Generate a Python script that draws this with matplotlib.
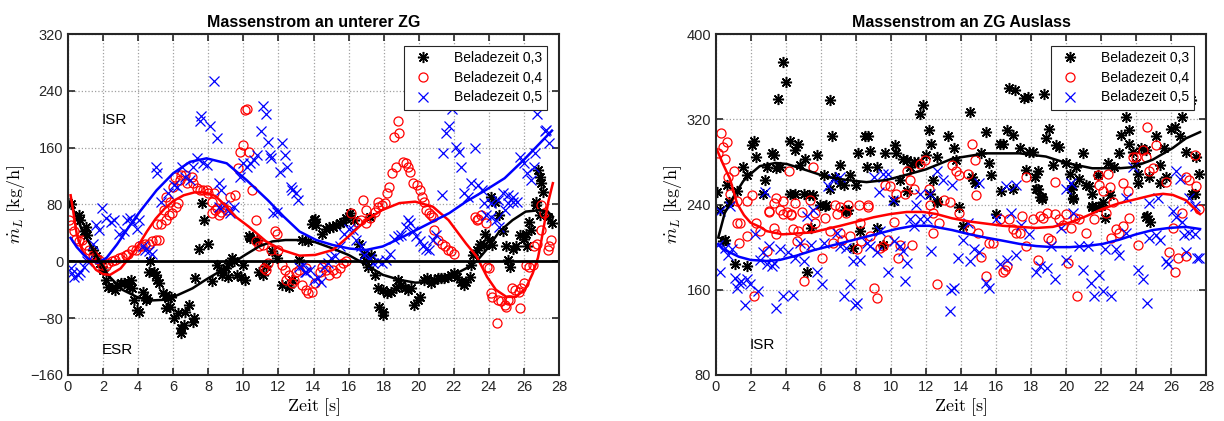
import matplotlib
matplotlib.use("Agg")
import matplotlib.pyplot as plt

plt.rcParams['font.family'] = ['Liberation Sans', 'DejaVu Sans']
plt.rcParams['mathtext.fontset'] = 'cm'

# ---------------- left panel: Massenstrom an unterer ZG ----------------
l_t03 = [0.0, 0.15, 0.6, 0.7, 0.9, 1.1, 1.0, 1.4, 1.6, 1.8, 2.0, 2.15, 2.3, 2.5, 2.7, 2.8, 3.0, 3.2, 3.4, 3.6,
         3.5, 3.65, 3.75, 3.95, 4.05, 4.25, 4.45, 4.5, 4.7, 4.6, 4.9, 5.0, 5.1, 5.2, 5.4, 5.6, 5.7, 5.9, 5.6, 5.8,
         6.05, 6.25, 6.45, 6.45, 6.6, 6.7, 6.9, 7.1, 7.2, 7.25, 7.45, 7.75, 7.65, 8.0, 8.2, 8.5, 8.7, 8.8, 9.0, 9.1,
         9.2, 9.35, 9.45, 9.65, 9.85, 10.0, 10.1, 10.3, 10.4, 10.8, 10.9, 11.1, 11.3, 11.65, 11.9, 12.2, 12.6, 12.8,
         13.15, 13.35, 13.7, 13.9, 14.1, 14.0, 14.15, 14.5, 14.7, 14.9, 15.1, 15.3, 15.5, 15.7, 15.85, 16.1, 16.3,
         16.6, 16.9, 17.0, 17.2, 17.3, 17.1, 17.5, 17.65, 17.95, 18.2, 18.4, 17.75, 17.95, 17.95, 18.8, 18.7, 19.0,
         19.2, 19.4, 19.55, 19.75, 19.95, 20.1, 20.3, 20.5, 20.7, 20.9, 21.1, 21.25, 21.45, 21.65, 21.85, 22.0,
         22.2, 22.4, 22.6, 22.7, 22.9, 23.0, 23.1, 23.3, 23.5, 23.7, 23.8, 24.0, 24.2, 24.35, 24.15, 24.6, 24.8,
         25.0, 25.1, 25.2, 25.35, 25.55, 25.75, 26.0, 26.1, 26.2, 26.3, 26.4, 26.7, 26.9, 27.35, 27.6, 26.8, 26.9,
         27.0, 27.1, 26.7]
l_m03 = [82, 80, 65, 58, 42, 37, 49, 16, 7, -3, -12, -26, -36, -38, -40, -33, -31, -31, -29, -26,
         -36, -38, -54, -68, -71, -43, -54, -52, 0, -15, -15, -19, -26, -31, -45, -47, -52, -50, -66, -64,
         -80, -73, -94, -101, -90, -71, -61, -85, -80, -24, 18, 58, 82, 25, -28, -5, -12, -19, -10, -22,
         -3, 4, 0, -19, -22, -5, -26, 35, 33, 30, -15, -19, -7, 14, 4, -33, -36, -26,
         2, 30, 28, 53, 60, 58, 51, 39, 46, 49, 49, 51, 54, 56, 61, 68, 58,
         25, 11, 0, 63, 9, -8, -19, -38, -40, -45, -43, -64, -71, -76, -26, -38, -33,
         -38, -40, -38, -61, -54, -50, -26, -24, -31, -26, -24, -24, -24, -22, -19, -17,
         -22, -29, -33, -29, -22, -5, 9, 16, 25, 23, 39, 30, 23, 84, 91, 65, 42,
         21, 2, -8, 18, 21, 37, 32, 39, 21, 56, 44, 79, 65, 63, 54, 128, 119,
         110, 98, 84]

l_t04 = [0.05, 0.15, 0.35, 0.45, 0.6, 0.8, 1.0, 1.2, 1.4, 1.6, 1.75, 1.95, 2.15, 2.3, 2.5, 2.7, 2.9, 3.1, 3.3, 3.45,
         3.65, 3.85, 4.05, 4.2, 4.4, 4.6, 4.8, 5.0, 5.2, 5.1, 5.3, 5.6, 5.75, 5.95, 6.15, 6.3, 6.1, 6.45, 6.65, 7.05,
         6.8, 7.15, 7.35, 7.5, 7.7, 7.9, 8.0, 8.3, 8.2, 8.5, 8.7, 8.85, 9.05, 9.25, 9.5, 9.7, 10.0, 9.8, 10.3, 10.1,
         10.2, 10.5, 10.7, 6.4, 6.0, 5.6, 5.8, 5.45, 8.2, 8.4, 8.6, 10.7, 10.9, 11.1, 11.2, 11.3, 11.4, 11.6, 11.8,
         11.9, 12.0, 12.2, 12.35, 12.45, 12.6, 12.75, 12.9, 13.0, 13.15, 13.35, 13.55, 13.7, 13.9, 14.1, 13.6,
         14.35, 14.5, 14.7, 14.9, 15.1, 15.3, 15.5, 15.7, 15.85, 16.15, 16.5, 16.7, 17.0, 17.2, 17.5, 17.7, 17.9,
         18.05, 16.8, 17.0, 17.7, 18.2, 18.3, 18.5, 18.7, 18.6, 18.9, 18.8, 19.1, 19.3, 19.4, 19.5, 19.7, 19.9,
         20.1, 20.2, 20.3, 20.4, 20.6, 20.8, 20.7, 20.9, 21.1, 21.3, 21.5, 21.65, 21.85, 22.0, 23.2, 23.3, 23.55,
         23.85, 23.9, 24.0, 24.1, 24.2, 24.45, 24.5, 24.7, 24.9, 25.0, 25.1, 25.2, 25.3, 25.5, 25.7, 25.8, 25.85,
         26.0, 26.1, 26.3, 26.5, 26.6, 26.75, 26.95, 27.15, 27.35, 27.45, 27.55, 26.95, 23.4]
l_m04 = [58, 51, 42, 32, 28, 30, 23, 16, 9, 4, 2, -5, -7, -3, 0, 2, 4, 6, 9, 11,
         16, 16, 21, 21, 25, 25, 28, 30, 30, 53, 53, 58, 65, 68, 77, 82, 119, 121, 121, 119,
         110, 110, 103, 100, 100, 100, 96, 96, 84, 75, 70, 77, 72, 91, 93, 131, 164, 154, 154, 213,
         215, 100, 58, 114, 105, 91, 84, 72, 68, 72, 65, 28, 21, 23, -10, -12, -3, 16, 42,
         39, 16, -5, -12, -26, -19, -31, -26, -15, -12, -33, -40, -45, -43, -31, -10,
         -15, -8, -12, -19, -12, -17, -10, -3, 0, 68, 56, 58, 54, 61, 70, 77, 79,
         82, 86, 72, 84, 96, 105, 124, 133, 175, 180, 197, 140, 138, 133, 126, 110, 108,
         100, 91, 84, 72, 68, 63, 65, 44, 30, 25, 21, 16, 14, 11, 63, 58, 65,
         54, -8, -10, -45, -50, -87, -54, -56, -61, -64, -54, -54, -38, -40, -43, -66, -38,
         -31, -5, -8, -5, 21, 25, 44, 68, 16, 21, 30, 79, 60]

l_t05 = [0.15, 0.25, 0.35, 0.55, 0.7, 0.9, 1.1, 1.4, 1.6, 1.75, 1.95, 2.15, 2.45, 2.6, 2.9, 3.2, 3.35, 3.55, 3.65,
         3.95, 4.05, 4.25, 4.4, 4.6, 4.8, 5.0, 5.1, 5.3, 5.7, 6.05, 6.2, 6.5, 6.7, 6.95, 7.15, 7.35, 7.5, 7.6, 8.1,
         8.5, 8.3, 7.7, 7.9, 8.6, 8.7, 8.9, 9.25, 9.45, 9.8, 10.0, 10.2, 10.4, 10.6, 10.8, 11.0, 11.1, 11.3, 11.4,
         11.5, 11.6, 11.9, 12.1, 12.2, 12.4, 12.5, 12.7, 12.8, 13.0, 13.1, 8.6, 9.2, 11.7, 13.15, 13.4, 13.6, 13.8,
         14.0, 13.5, 14.25, 14.45, 14.6, 14.8, 15.0, 15.2, 15.5, 15.75, 16.05, 16.25, 16.4, 16.7, 16.9, 17.2, 17.4,
         17.7, 17.9, 18.15, 18.35, 18.6, 18.8, 19.0, 19.3, 19.5, 19.65, 19.85, 20.05, 20.25, 20.4, 20.6, 20.8,
         21.0, 19.4, 21.3, 21.4, 21.55, 21.7, 21.9, 22.1, 22.3, 22.4, 22.6, 22.8, 23.0, 23.2, 23.4, 23.6, 23.7,
         24.1, 24.5, 24.8, 25.1, 25.35, 25.6, 25.8, 26.0, 26.2, 26.4, 26.55, 26.65, 26.75, 27.0, 27.2, 27.25,
         27.45, 23.85, 24.1, 24.4, 24.6, 24.9, 25.1, 25.4]
l_m05 = [-10, -17, -22, -19, -15, -8, 0, 25, 51, 44, 75, 61, 56, 58, 39, 42, 58, 61, 56,
         46, 58, 21, 16, 14, 11, 133, 124, 84, 96, 107, 105, 133, 119, 114, 133, 145, 197, 204, 190,
         173, 254, 138, 136, 110, 100, 79, 68, 77, 119, 138, 133, 138, 143, 150, 183, 218, 208, 168,
         150, 145, 70, 126, 166, 150, 133, 105, 100, 96, 86, 77, 72, 68, -8, -5, -15, -12,
         -26, -15, -24, -29, -8, -3, 4, 7, 21, 39, 46, 44, 30, 21, 9, 4, -3,
         0, -3, 2, 11, 32, 35, 37, 49, 54, 42, 35, 28, 21, 18, 16, 30,
         37, 58, 93, 152, 180, 190, 215, 161, 154, 133, 96, 91, 110, 159, 107, 100, 82,
         82, 86, 96, 93, 91, 84, 147, 138, 124, 114, 133, 152, 208, 255, 183, 185,
         166, 65, 63, 58, 49, 72, 82, 84]

# fitted curves
lf03_t = [0.1, 0.8, 1.6, 2.3, 3.1, 4.0, 4.8, 5.6, 6.3, 7.1, 7.85, 8.6, 9.35, 10.1, 10.9, 11.65, 12.4, 13.2, 14.1,
          15.1, 16.0, 17.0, 17.95, 18.9, 19.8, 20.8, 21.75, 22.7, 23.3, 23.85, 24.6, 25.35, 26.1, 26.9, 27.35, 27.65]
lf03_m = [84, 44, 9, -20, -40, -51, -55, -54, -47, -38, -26, -15, -3, 9, 21, 28, 30, 30, 27,
          18, 9, -5, -19, -26, -30, -29, -22, -10, 0, 16, 42, 58, 70, 72, 70, 63]
lf04_t = [0.15, 0.3, 0.5, 0.8, 1.1, 1.6, 2.0, 2.4, 3.0, 3.5, 4.0, 4.5, 5.0, 5.5, 6.0, 6.6, 7.2, 7.8, 8.4, 9.0,
          9.6, 10.3, 11.3, 12.2, 13.2, 14.1, 15.1, 16.0, 17.0, 17.9, 18.9, 19.8, 20.8, 21.7, 22.7, 23.3, 23.9,
          24.4, 25.0, 25.55, 26.1, 26.5, 26.8, 27.0, 27.2, 27.4, 27.65]
lf04_m = [93, 70, 38, 16, 4, -12, -18, -19, -10, 5, 22, 42, 60, 74, 85, 93, 97, 97, 92, 78,
          62, 49, 28, 16, 8, 9, 16, 35, 58, 72, 82, 84, 77, 58, 25, 7, -22,
          -40, -50, -50, -38, -17, 5, 30, 58, 85, 110]
lf05_t = [0.15, 0.5, 0.9, 1.3, 1.7, 2.2, 2.8, 3.4, 4.1, 5.05, 6.0, 6.95, 7.9, 9.05, 10.2, 11.4, 12.3, 13.2,
          14.15, 15.1, 16.05, 17.0, 17.95, 18.9, 19.85, 20.8, 21.75, 22.7, 23.8, 24.9, 26.0, 26.9, 27.6]
lf05_m = [33, 20, 9, 1, -2, 5, 24, 46, 70, 100, 124, 140, 145, 138, 114, 86, 63, 42,
          30, 23, 18, 16, 21, 32, 44, 56, 68, 84, 100, 117, 143, 166, 184]

# ---------------- right panel: Massenstrom an ZG Auslass ----------------
r_t03 = [3.85, 3.98, 3.56, 6.5, 6.6, 0.05, 0.65, 1.2, 1.55, 1.75, 2.05, 2.15, 2.3, 2.8, 2.7, 2.9, 3.2, 3.3, 3.45,
         3.65, 4.25, 4.7, 4.5, 4.8, 5.1, 4.2, 4.5, 5.0, 5.3, 5.55, 5.75, 6.15, 6.25, 6.5, 6.8, 7.1, 7.1, 7.3, 7.35,
         7.65, 8.0, 8.1, 8.5, 8.7, 8.8, 8.6, 9.2, 9.65, 10.2, 10.3, 10.7, 10.9, 11.1, 10.5, 10.9, 11.3, 11.55, 11.65,
         11.85, 12.15, 12.3, 12.0, 12.4, 12.6, 13.25, 13.6, 13.7, 14.5, 14.6, 14.8, 15.15, 15.4, 15.6, 15.7, 16.2,
         16.4, 16.65, 16.95, 16.75, 17.1, 17.35, 17.6, 17.8, 17.9, 18.1, 17.7, 18.2, 18.4, 18.3, 18.6, 18.75, 18.85,
         19.05, 19.25, 19.45, 19.6, 20.0, 20.2, 20.4, 20.55, 20.75, 20.95, 21.15, 21.5, 21.8, 22.4, 22.75, 23.05,
         23.15, 23.45, 23.6, 23.6, 23.8, 24.0, 24.1, 24.1, 24.3, 24.55, 24.75, 25.15, 25.35, 25.6, 25.7, 26.0,
         26.2, 26.5, 26.65, 26.85, 27.15, 27.35, 27.6, 27.4, 25.35, 12.2, 12.65, 16.3, 16.95, 18.4, 18.5, 20.3,
         20.4, 21.3, 21.5, 21.7, 22.0, 22.5, 24.55, 27.2, 0.2, 0.4, 0.5, 0.75, 1.1, 1.75, 5.2, 5.45, 5.95, 6.3,
         7.4, 7.55, 7.85, 8.2, 9.2, 9.55, 10.15, 12.6, 13.9, 14.1, 16.0, 18.6, 20.4, 21.5, 22.1, 22.2, 24.6, 24.8]
r_m03 = [374, 355, 339, 338, 304, 252, 258, 253, 275, 268, 296, 300, 285, 263, 250, 275, 288, 286, 274,
         275, 300, 297, 291, 277, 283, 250, 250, 250, 249, 249, 286, 268, 239, 255, 266, 277, 260, 258, 235,
         268, 258, 288, 304, 304, 290, 275, 275, 288, 296, 288, 283, 282, 275, 263, 253, 280, 280, 325,
         333, 310, 297, 286, 263, 285, 304, 293, 282, 327, 266, 260, 288, 308, 279, 268, 297,
         297, 310, 305, 349, 347, 293, 340, 341, 289, 289, 272, 266, 271, 255, 247, 344, 302,
         311, 277, 296, 294, 279, 269, 257, 275, 264, 288, 258, 250, 268, 279, 275, 288,
         305, 322, 310, 297, 289, 279, 269, 260, 293, 291, 266, 304, 277, 293, 266, 311,
         313, 304, 322, 289, 338, 250, 269, 285, 260, 250, 243, 253, 255, 255, 247, 255,
         246, 257, 239, 238, 239, 249, 228, 250, 235, 206, 207, 242, 184, 182, 177, 218, 240, 240,
         234, 235, 199, 215, 218, 202, 243, 242, 238, 220, 231, 245, 245, 238, 242, 227, 229, 224]

r_t04 = [0.13, 0.3, 0.4, 0.6, 0.5, 0.7, 1.0, 0.8, 1.2, 2.05, 1.75, 3.0, 3.3, 3.45, 3.85, 4.05, 4.15, 4.3, 4.5,
         4.9, 5.35, 5.55, 5.65, 6.8, 7.1, 7.55, 8.15, 8.7, 9.65, 9.95, 10.3, 10.8, 10.9, 11.1, 11.3, 11.65, 11.95,
         12.15, 12.25, 12.4, 13.5, 13.7, 13.9, 14.4, 14.6, 14.8, 14.85, 13.05, 13.35, 17.7, 19.35, 21.8, 21.9,
         22.1, 22.4, 22.5, 22.7, 23.25, 23.55, 23.8, 24.0, 24.4, 24.55, 24.65, 24.75, 24.95, 25.15, 25.7, 26.85,
         27.05, 27.35, 27.6, 27.45, 1.2, 1.35, 1.3, 1.75, 2.15, 2.3, 2.5, 2.9, 3.0, 3.3, 3.4, 3.65, 3.85, 4.3, 4.4,
         4.6, 4.7, 5.0, 5.2, 5.0, 5.65, 6.05, 6.25, 6.5, 6.7, 6.9, 7.1, 7.2, 7.45, 7.65, 8.05, 8.25, 8.3, 8.7, 8.8,
         9.0, 9.2, 9.35, 9.55, 9.85, 10.15, 10.4, 10.5, 11.2, 12.4, 12.65, 12.75, 13.9, 14.5, 14.95, 15.15, 15.4,
         15.6, 15.8, 16.2, 16.4, 16.5, 16.65, 16.75, 16.95, 17.15, 17.35, 17.5, 17.7, 18.1, 18.4, 18.5, 18.7, 18.9,
         18.95, 19.15, 19.35, 19.6, 19.8, 20.0, 20.1, 20.3, 20.5, 20.65, 20.75, 21.15, 21.6, 22.3, 22.55, 22.85,
         23.05, 23.25, 23.6, 24.1, 25.9, 26.2, 26.4, 26.65, 26.85, 26.1]
r_m04 = [288, 307, 294, 299, 283, 266, 271, 250, 243, 249, 243, 233, 241, 246, 243, 233, 271, 230, 241,
         233, 244, 275, 232, 240, 238, 240, 240, 240, 258, 257, 250, 250, 271, 263, 255, 278, 282,
         255, 240, 232, 277, 271, 268, 269, 297, 282, 249, 244, 242, 266, 261, 268, 258,
         253, 269, 256, 242, 260, 253, 285, 285, 291, 285, 313, 271, 274, 296, 261, 266,
         263, 286, 236, 257, 223, 223, 204, 210, 154, 223, 215, 196, 234, 218, 212, 235, 231, 231, 217,
         206, 215, 199, 218, 168, 223, 190, 227, 215, 204, 231, 213, 207, 232, 210, 198, 223, 206, 238, 210,
         162, 152, 199, 201, 207, 224, 190, 202, 202, 213, 165, 223, 232, 217, 213, 191, 173,
         204, 204, 226, 177, 179, 182, 226, 217, 213, 213, 229, 201, 226, 188, 229, 227, 232,
         209, 207, 231, 226, 221, 231, 185, 218, 227, 154, 226, 213, 226, 232, 209, 217,
         213, 220, 227, 202, 195, 177, 190, 232, 192, 218]

r_t05 = [0.2, 0.13, 0.2, 0.5, 0.7, 0.9, 1.1, 1.3, 1.2, 1.45, 1.65, 1.75, 1.95, 2.2, 2.4, 2.5, 2.7, 2.9, 3.0, 3.2,
         3.3, 3.4, 3.65, 3.85, 4.1, 4.4, 4.5, 4.8, 5.0, 5.2, 5.45, 5.55, 5.75, 6.05, 6.15, 6.9, 7.1, 7.3, 7.45,
         7.65, 7.85, 7.95, 8.05, 8.25, 8.6, 8.8, 9.2, 9.35, 9.85, 10.15, 10.5, 10.7, 10.8, 10.9, 11.1, 11.3, 11.45,
         11.65, 12.05, 12.3, 13.35, 13.4, 13.6, 13.8, 14.1, 14.4, 14.5, 14.75, 15.05, 15.4, 15.6, 16.0, 16.2,
         16.65, 16.85, 17.15, 17.45, 17.9, 18.3, 18.5, 18.9, 19.15, 19.35, 19.7, 20.0, 20.4, 20.75, 20.95, 21.25,
         21.45, 21.6, 21.9, 22.1, 22.2, 22.55, 22.85, 23.05, 23.4, 24.1, 24.4, 24.6, 24.75, 25.15, 25.35, 25.7,
         25.8, 26.1, 26.3, 26.65, 26.75, 26.85, 27.05, 27.35, 27.5, 27.6, 2.8, 0.8, 6.4, 6.7, 7.1, 9.0, 9.3, 9.55,
         9.85, 10.1, 11.65, 12.2, 12.6, 12.95, 13.5, 15.05, 16.55, 17.15, 20.0, 20.3, 23.45, 23.8, 24.75, 25.25,
         26.3, 26.5, 27.05, 27.35]
r_m05 = [234, 202, 177, 199, 193, 198, 171, 166, 162, 168, 146, 170, 165, 212, 159, 188, 195, 184, 201, 182,
         185, 143, 198, 154, 195, 155, 190, 204, 187, 229, 202, 235, 177, 165, 204, 213, 201, 154, 199,
         165, 187, 146, 148, 188, 204, 201, 195, 215, 177, 206, 201, 196, 168, 185, 226, 220, 240,
         226, 226, 196, 140, 160, 162, 190, 207, 223, 187, 198, 195, 166, 162, 226, 184,
         188, 232, 193, 221, 212, 177, 182, 180, 201, 170, 218, 188, 232, 201, 179, 201,
         166, 154, 174, 159, 198, 154, 198, 193, 213, 179, 170, 148, 209, 211, 207, 187,
         184, 234, 228, 224, 211, 195, 213, 212, 190, 190, 252, 239, 257, 264, 266, 266, 252, 269,
         269, 244, 250, 250, 271, 263, 258, 260, 257, 258, 255, 260, 246, 275, 241, 246,
         271, 264, 246, 239]

rf03_t = [0.13, 0.5, 0.99, 1.56, 2.0, 2.5, 3.4, 4.05, 5.2, 6.3, 7.45, 8.6, 9.75, 10.9, 12.0, 13.5, 15.4, 17.35,
          18.85, 20.0, 21.5, 23.05, 23.8, 24.95, 26.1, 26.85, 27.66]
rf03_m = [209, 232, 247, 262, 269, 276, 279, 278, 272, 266, 263, 261, 263, 268, 273, 283, 288, 288,
          285, 279, 274, 274, 275, 282, 293, 302, 308]
rf04_t = [0.04, 0.4, 0.8, 1.2, 1.6, 1.97, 2.5, 2.9, 3.8, 4.8, 5.55, 6.3, 7.1, 8.05, 9.0, 9.95, 10.9, 11.85,
          12.6, 13.5, 14.5, 15.45, 16.4, 17.35, 18.3, 19.25, 20.2, 21.15, 22.1, 23.0, 24.0, 25.0, 25.55, 26.1,
          26.85, 27.66]
rf04_m = [292, 278, 264, 241, 230, 223, 219, 215, 212, 213, 214, 217, 220, 224, 228, 231, 233, 233,
          231, 227, 224, 222, 220, 219, 218, 219, 223, 229, 236, 241, 245, 249, 250, 249,
          244, 231]
rf05_t = [0.13, 0.4, 0.8, 1.3, 1.97, 2.9, 3.65, 4.6, 5.55, 6.5, 7.45, 8.4, 9.35, 10.3, 11.3, 12.2, 13.5, 14.5,
          15.4, 16.4, 17.35, 18.3, 19.25, 20.2, 21.15, 22.1, 23.05, 24.0, 24.95, 25.9, 26.85, 27.66]
rf05_m = [203, 198, 195, 191, 188, 187, 188, 192, 197, 201, 205, 209, 213, 217, 220, 220, 216, 212,
          209, 206, 203, 201, 200, 200, 201, 203, 207, 212, 216, 218, 219, 217]

labels = ['Beladezeit 0,3', 'Beladezeit 0,4', 'Beladezeit 0,5']
ast = (8, 2, 0)

fig = plt.figure(figsize=(12.24, 4.21), dpi=100)
ax1 = fig.add_axes([68 / 1224, 1 - 375 / 421, 491 / 1224, 341 / 421])
ax2 = fig.add_axes([716 / 1224, 1 - 375 / 421, 490 / 1224, 341 / 421])


def style(ax, ylim, yticks, title):
    ax.set_xlim(0, 28)
    ax.set_ylim(*ylim)
    ax.set_xticks(range(0, 29, 2))
    ax.set_yticks(yticks)
    ax.grid(True, linestyle=':', color='#a0a0a0', linewidth=0.9)
    ax.set_axisbelow(True)
    ax.tick_params(direction='in', top=True, right=True, labelsize=10.5, colors='#262626', length=5, width=1.2)
    for s in ax.spines.values():
        s.set_linewidth(1.5)
        s.set_color('#262626')
    ax.set_title(title, fontsize=11.5, fontweight='bold', pad=5)
    ax.set_xlabel(r'$\mathrm{Zeit\ [s]}$', fontsize=13, labelpad=2)
    ax.set_ylabel(r'$\dot{m}_L\ \mathrm{[kg/h]}$', fontsize=13, labelpad=2)


def draw(ax, data, fits):
    (t3, m3), (t4, m4), (t5, m5) = data
    ax.plot(t3, m3, ls='none', marker=ast, ms=8, mec='k', mew=1.1, color='k', label=labels[0])
    ax.plot(t4, m4, ls='none', marker='o', ms=6.5, mfc='none', mec='r', mew=0.9, label=labels[1])
    ax.plot(t5, m5, ls='none', marker='x', ms=6.5, mec='b', mew=0.9, label=labels[2])
    for (ft, fm), c in zip(fits, ['k', 'r', 'b']):
        ax.plot(ft, fm, color=c, lw=1.8)
    leg = ax.legend(loc='upper right', fontsize=10, frameon=True, fancybox=False, edgecolor='#262626',
                    framealpha=1, borderaxespad=0.85, handletextpad=1.2, labelspacing=0.4)
    leg.get_frame().set_linewidth(0.8)


draw(ax1, [(l_t03, l_m03), (l_t04, l_m04), (l_t05, l_m05)],
     [(lf03_t, lf03_m), (lf04_t, lf04_m), (lf05_t, lf05_m)])
ax1.axhline(0, color='k', lw=2)
style(ax1, (-160, 320), [-160, -80, 0, 80, 160, 240, 320], 'Massenstrom an unterer ZG')
ax1.text(1.9, 199, 'ISR', fontsize=11, va='center')
ax1.text(1.9, -125, 'ESR', fontsize=11, va='center')

draw(ax2, [(r_t03, r_m03), (r_t04, r_m04), (r_t05, r_m05)],
     [(rf03_t, rf03_m), (rf04_t, rf04_m), (rf05_t, rf05_m)])
style(ax2, (80, 400), [80, 160, 240, 320, 400], 'Massenstrom an ZG Auslass')
ax2.text(1.9, 108, 'ISR', fontsize=11, va='center')

fig.savefig('out.png', dpi=100)
